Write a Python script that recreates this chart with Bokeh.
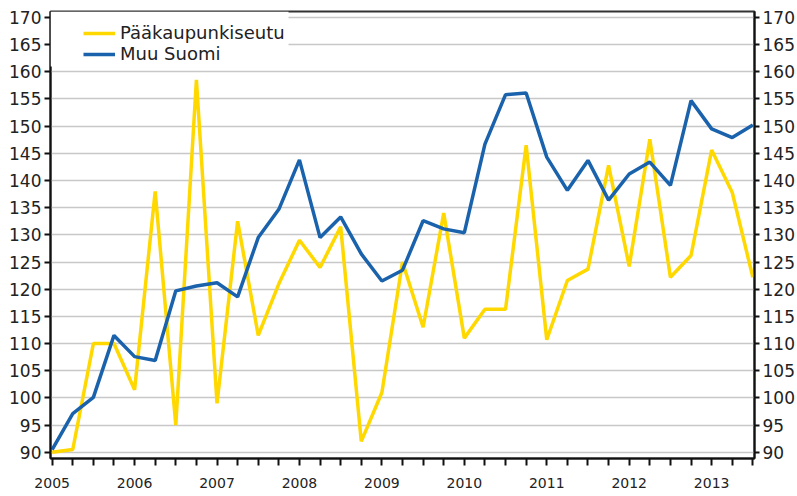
from bokeh.plotting import figure
from bokeh.models import (LinearAxis, FixedTicker, Legend, LegendItem,
                          BoxAnnotation, Node, Range1d)
from bokeh.embed import file_html
from bokeh.resources import INLINE

# ---- data (quarterly index, 2005Q1 .. 2013Q3) ----
quarters = list(range(35))
years = ["2005", "2006", "2007", "2008", "2009", "2010", "2011", "2012", "2013"]
paakaupunkiseutu = [90.0, 90.5, 110.0, 110.0, 101.5, 138.0, 95.0, 158.5,
                    99.0, 132.5, 111.5, 121.0, 129.0, 124.0, 131.5, 92.0,
                    101.0, 125.0, 113.0, 134.0, 111.0, 116.3, 116.3, 146.5,
                    110.7, 121.6, 123.7, 142.8, 124.2, 147.6, 122.2, 126.2,
                    145.6, 137.8, 122.2]
muu_suomi = [90.5, 97.1, 100.1, 111.5, 107.6, 106.9, 119.7, 120.6,
             121.2, 118.6, 129.5, 134.7, 143.8, 129.5, 133.3, 126.5,
             121.5, 123.5, 132.6, 131.1, 130.4, 146.7, 155.8, 156.1,
             144.3, 138.2, 143.7, 136.4, 141.2, 143.4, 139.1, 154.7,
             149.5, 147.9, 150.2]
y_ticks = list(range(90, 171, 5))
series_names = ["Pääkaupunkiseutu", "Muu Suomi"]

YELLOW = "#FFD800"
BLUE = "#1A63AC"
TXT = "#222222"
FONT = "DejaVu Sans"

p = figure(width=797, height=496, output_backend="svg", toolbar_location=None,
           x_range=Range1d(-0.08, 34.08), y_range=Range1d(88.85, 171.1),
           min_border_left=50, min_border_right=0, min_border_top=11,
           min_border_bottom=38, background_fill_color="white",
           border_fill_color="white")

r1 = p.line(quarters, paakaupunkiseutu, line_color=YELLOW, line_width=3.5)
r2 = p.line(quarters, muu_suomi, line_color=BLUE, line_width=3.5)

# grid
p.xgrid.visible = False
p.ygrid.ticker = FixedTicker(ticks=y_ticks)
p.ygrid.grid_line_color = "#c8c8c8"
p.ygrid.grid_line_width = 1.5

p.outline_line_color = "#333333"
p.outline_line_width = 2

# axes
p.xaxis.ticker = FixedTicker(ticks=quarters)
p.xaxis.major_label_overrides = {q: (years[q // 4] if q % 4 == 0 else "") for q in quarters}
p.yaxis.ticker = FixedTicker(ticks=y_ticks)

right = LinearAxis(ticker=FixedTicker(ticks=y_ticks))
p.add_layout(right, "right")

for ax in [p.xaxis[0], p.yaxis[0], right]:
    ax.axis_line_color = "#111111"
    ax.axis_line_width = 2
    ax.major_tick_line_color = "#111111"
    ax.major_tick_line_width = 2
    ax.major_tick_in = 0
    ax.minor_tick_line_color = None
    ax.major_label_text_font = FONT
    ax.major_label_text_color = TXT

p.xaxis.major_tick_out = 7
p.xaxis.major_label_standoff = 12
p.xaxis.major_label_text_font_size = "14px"
p.yaxis.major_tick_out = 6
p.yaxis.major_label_standoff = 3
p.yaxis.major_label_text_font_size = "17px"
right.major_tick_out = 5
right.major_label_standoff = 3
right.major_label_text_font_size = "17px"

# white area behind legend
box = BoxAnnotation(left=Node(target="frame", symbol="left"),
                    top=Node(target="frame", symbol="top"),
                    right=Node(target="frame", symbol="left", offset=238),
                    bottom=Node(target="frame", symbol="top", offset=55),
                    fill_color="white", fill_alpha=1.0, line_color=None)
p.add_layout(box)

legend = Legend(items=[LegendItem(label=series_names[0], renderers=[r1]),
                       LegendItem(label=series_names[1], renderers=[r2])],
                location=(33, 394), padding=0, margin=0, spacing=-2,
                glyph_width=32, glyph_height=20, label_height=20,
                label_standoff=5, label_text_font=FONT,
                label_text_font_size="18px", label_text_color=TXT,
                background_fill_alpha=0, border_line_color=None)
p.add_layout(legend)

open("out.html", "w").write(file_html(p, INLINE))
